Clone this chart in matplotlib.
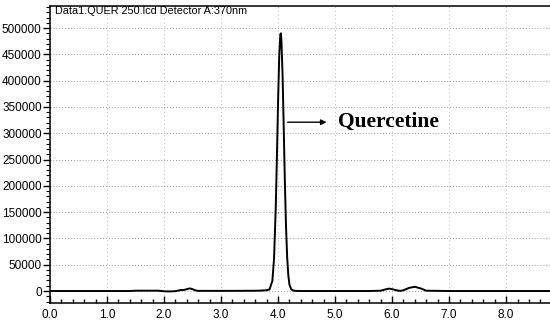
import matplotlib
matplotlib.use('Agg')
import matplotlib.pyplot as plt
from matplotlib.ticker import MultipleLocator

# font setting
plt.rcParams['font.family'] = ['Liberation Sans', 'DejaVu Sans']

# chromatogram (time in min, signal)
time = [0.0, 0.5, 1.0, 1.4, 1.5, 1.9, 2.0, 2.1, 2.2, 2.3, 2.35, 2.4, 2.45, 2.5, 2.55, 2.6,
        2.8, 3.2, 3.6, 3.7, 3.8, 3.85, 3.9, 3.93, 3.96, 3.98, 4.0, 4.02, 4.04, 4.05,
        4.06, 4.08, 4.1, 4.12, 4.14, 4.16, 4.18, 4.2, 4.23, 4.26, 4.3, 4.4, 5.0,
        5.6, 5.8, 5.9, 5.95, 6.0, 6.1, 6.15, 6.2, 6.3, 6.4, 6.5, 6.6, 7.0, 8.0, 8.8]
signal = [0, 0, 0, 0, 600, 600, -500, -800, -300, 2000, 2000, 3500, 5000, 3500, 1200, 300,
          300, 300, 500, 800, 1500, 3000, 19000, 62000, 160000, 255000, 358000, 445000, 488000, 490000,
          474000, 408000, 308000, 205000, 122000, 64000, 30000, 12000, 3500, 1200, 300, 0, 0,
          0, 600, 3500, 4500, 3500, 800, 300, 1500, 6000, 8000, 5000, 600, 0, 0, 0]

title = 'Data1.QUER 250.lcd Detector A:370nm'
peak_name = 'Quercetine'

fig = plt.figure(figsize=(5.5, 3.23), dpi=100)
ax = fig.add_axes([50 / 550, 20 / 323, 1 - 50 / 550, (303 - 6) / 323])

ax.plot(time, signal, color='black', lw=1.4)

ax.set_xlim(0, 8.77)
ax.set_ylim(-22800, 542000)
ax.xaxis.set_major_locator(MultipleLocator(1.0))
ax.xaxis.set_minor_locator(MultipleLocator(0.2))
ax.yaxis.set_major_locator(MultipleLocator(50000))
ax.yaxis.set_minor_locator(MultipleLocator(10000))
ax.xaxis.set_major_formatter(plt.FuncFormatter(lambda v, p: '%.1f' % v))
ax.yaxis.set_major_formatter(plt.FuncFormatter(lambda v, p: '%d' % v))
ax.tick_params(axis='x', which='major', direction='in', length=5, width=1, labelsize=8.5, pad=4)
ax.tick_params(axis='x', which='minor', direction='in', length=3, width=1)
ax.tick_params(axis='y', which='major', direction='out', length=5, width=1, labelsize=8.5, pad=1)
ax.tick_params(axis='y', which='minor', direction='out', length=3, width=0.8)

ax.grid(True, axis='y', which='major', color='#999999', linestyle=(0, (1, 2)), linewidth=0.7)
ax.grid(True, axis='x', which='major', color='#bbbbbb', linestyle=(0, (1, 3)), linewidth=0.7)
ax.spines['right'].set_visible(False)
for s in ['left', 'bottom', 'top']:
    ax.spines[s].set_linewidth(1.1)

ax.text(0.01, 1.0, title, transform=ax.transAxes, ha='left', va='top', fontsize=7.8)

ax.annotate('', xy=(4.9, 321000), xytext=(4.12, 321000),
            arrowprops=dict(arrowstyle='-|>', color='black', lw=1.0, mutation_scale=8))
ax.text(5.05, 321000, peak_name, family=['Liberation Serif'], fontsize=15.5,
        fontweight='bold', ha='left', va='center')

fig.savefig('out.png', dpi=100)
